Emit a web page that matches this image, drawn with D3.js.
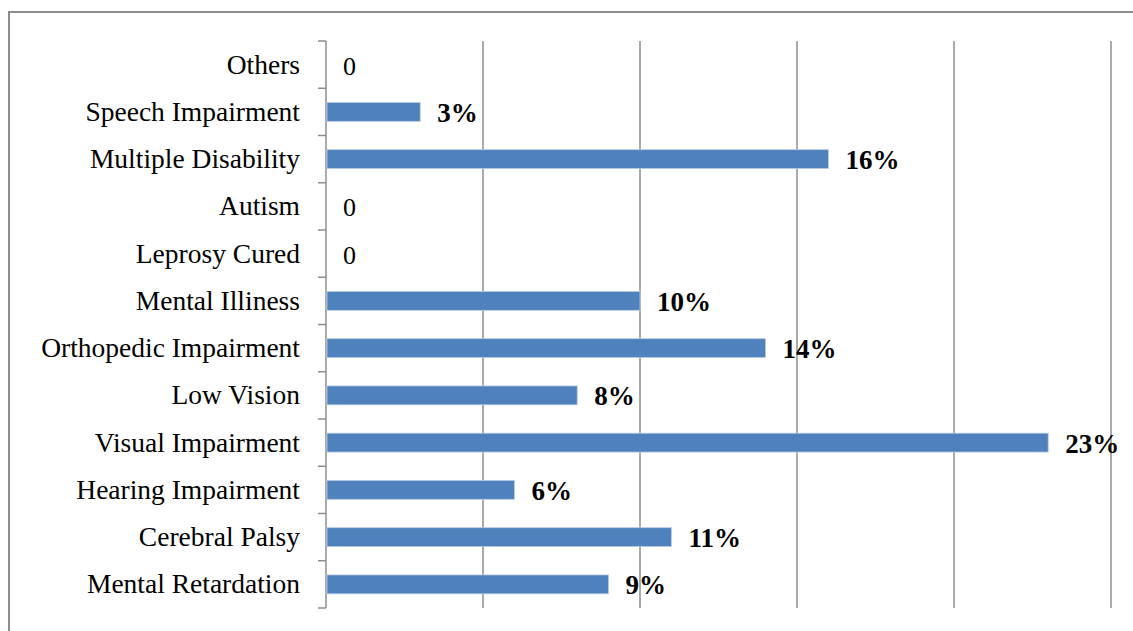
<!DOCTYPE html>
<html>
<head>
<meta charset="utf-8">
<script src="https://cdn.jsdelivr.net/npm/d3@7"></script>
<style>
  html, body { margin: 0; padding: 0; background: #fff; }
  svg { display: block; }
</style>
</head>
<body>
<svg id="chart" width="1133" height="631"></svg>
<script>
// Categories listed bottom to top as they appear on the axis
const categories = [
  "Mental Retardation", "Cerebral Palsy", "Hearing Impairment", "Visual Impairment",
  "Low Vision", "Orthopedic Impairment", "Mental Illiness", "Leprosy Cured",
  "Autism", "Multiple Disability", "Speech Impairment", "Others"
];
// Share of each disability type (percent)
const values = [9, 11, 6, 23, 8, 14, 10, 0, 0, 16, 3, 0];
// Text shown next to each bar
const valueLabels = ["9%", "11%", "6%", "23%", "8%", "14%", "10%", "0", "0", "16%", "3%", "0"];
// Vertical gridline positions (percent)
const gridTicks = [0, 5, 10, 15, 20, 25];

const svg = d3.select("#chart");
const W = 1133, H = 631;
const plot = { left: 326, right: 1111, top: 41, bottom: 608 };
const serif = "'Liberation Serif', 'Times New Roman', serif";

// Outer chart frame
svg.append("rect")
  .attr("x", 9).attr("y", 12)
  .attr("width", W + 20).attr("height", H + 20)
  .attr("fill", "none")
  .attr("stroke", "#8c8c8c")
  .attr("stroke-width", 2);

const x = d3.scaleLinear().domain([0, 25]).range([plot.left, plot.right]);
const y = d3.scaleBand()
  .domain(categories.slice().reverse())
  .range([plot.top, plot.bottom])
  .paddingInner(0.6)
  .paddingOuter(0.3);

// Vertical gridlines
svg.append("g")
  .selectAll("line")
  .data(gridTicks.filter(d => d > 0))
  .join("line")
  .attr("x1", d => x(d)).attr("x2", d => x(d))
  .attr("y1", plot.top).attr("y2", plot.bottom)
  .attr("stroke", "#8e8e8e")
  .attr("stroke-width", 1.5);

// Category axis with ticks on band boundaries
const bandStep = (plot.bottom - plot.top) / categories.length;
const axisG = svg.append("g");
axisG.append("line")
  .attr("x1", plot.left).attr("x2", plot.left)
  .attr("y1", plot.top).attr("y2", plot.bottom)
  .attr("stroke", "#8e8e8e").attr("stroke-width", 1.5);
axisG.selectAll("line.tick")
  .data(d3.range(categories.length + 1))
  .join("line")
  .attr("class", "tick")
  .attr("x1", plot.left - 8).attr("x2", plot.left)
  .attr("y1", i => plot.top + i * bandStep)
  .attr("y2", i => plot.top + i * bandStep)
  .attr("stroke", "#8e8e8e").attr("stroke-width", 1.5);

// Category labels
svg.append("g")
  .selectAll("text")
  .data(categories)
  .join("text")
  .attr("x", plot.left - 26)
  .attr("y", d => y(d) + y.bandwidth() / 2 + 9)
  .attr("text-anchor", "end")
  .attr("font-family", serif)
  .attr("font-size", 27.5)
  .attr("fill", "#000")
  .text(d => d);

// Bars
const data = categories.map((c, i) => ({ cat: c, value: values[i], label: valueLabels[i] }));
svg.append("g")
  .selectAll("rect")
  .data(data.filter(d => d.value > 0))
  .join("rect")
  .attr("x", x(0) + 1)
  .attr("y", d => y(d.cat))
  .attr("width", d => x(d.value) - x(0) - 1)
  .attr("height", y.bandwidth())
  .attr("fill", "#4f81bd")
  .attr("stroke", "#b9cde5")
  .attr("stroke-width", 0.8);

// Value labels
svg.append("g")
  .selectAll("text")
  .data(data)
  .join("text")
  .attr("x", d => x(d.value) + 17)
  .attr("y", d => y(d.cat) + y.bandwidth() / 2 + 10)
  .attr("font-family", serif)
  .attr("font-size", d => d.value > 0 ? 27 : 26)
  .attr("font-weight", d => d.value > 0 ? "bold" : "normal")
  .attr("fill", "#000")
  .text(d => d.label);
</script>
</body>
</html>
